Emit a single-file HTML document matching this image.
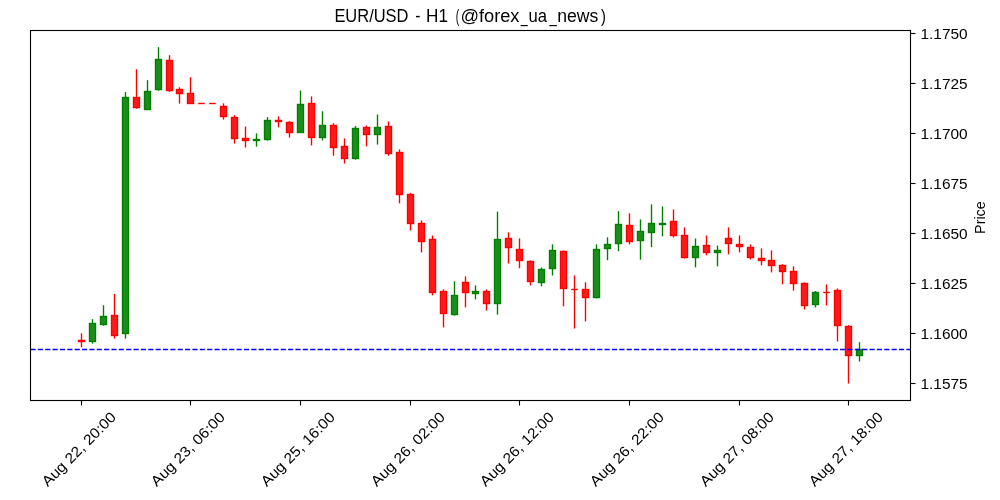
<!DOCTYPE html><html><head><meta charset="utf-8"><style>html,body{margin:0;padding:0;background:#fff;width:1000px;height:500px;overflow:hidden}svg{display:block;will-change:transform}text{font-family:"Liberation Sans",sans-serif}</style></head><body>
<svg width="1000" height="500" viewBox="0 0 1000 500">
<rect width="1000" height="500" fill="#fff"/>
<path d="M81.5 333.30V347.30" stroke="#ff0000" stroke-width="1.39"/>
<path d="M92.5 319.20V343.50" stroke="#008000" stroke-width="1.39"/>
<path d="M103.5 305.20V325.70" stroke="#008000" stroke-width="1.39"/>
<path d="M114.5 294.00V338.60" stroke="#ff0000" stroke-width="1.39"/>
<path d="M125.5 92.10V338.60" stroke="#008000" stroke-width="1.39"/>
<path d="M136.5 69.20V108.80" stroke="#ff0000" stroke-width="1.39"/>
<path d="M147.5 80.20V109.80" stroke="#008000" stroke-width="1.39"/>
<path d="M158.5 47.20V90.80" stroke="#008000" stroke-width="1.39"/>
<path d="M169.5 55.20V91.90" stroke="#ff0000" stroke-width="1.39"/>
<path d="M179.5 87.30V103.60" stroke="#ff0000" stroke-width="1.39"/>
<path d="M190.5 77.20V103.80" stroke="#ff0000" stroke-width="1.39"/>
<path d="M223.5 103.30V119.60" stroke="#ff0000" stroke-width="1.39"/>
<path d="M234.5 115.20V143.60" stroke="#ff0000" stroke-width="1.39"/>
<path d="M245.5 126.50V147.50" stroke="#ff0000" stroke-width="1.39"/>
<path d="M256.5 133.40V146.60" stroke="#008000" stroke-width="1.39"/>
<path d="M267.5 117.20V140.60" stroke="#008000" stroke-width="1.39"/>
<path d="M278.5 116.40V127.40" stroke="#ff0000" stroke-width="1.39"/>
<path d="M289.5 121.20V137.60" stroke="#ff0000" stroke-width="1.39"/>
<path d="M300.5 90.60V132.70" stroke="#008000" stroke-width="1.39"/>
<path d="M311.5 96.40V145.40" stroke="#ff0000" stroke-width="1.39"/>
<path d="M322.5 111.30V140.50" stroke="#008000" stroke-width="1.39"/>
<path d="M333.5 123.20V155.70" stroke="#ff0000" stroke-width="1.39"/>
<path d="M344.5 138.40V163.50" stroke="#ff0000" stroke-width="1.39"/>
<path d="M355.5 126.10V159.60" stroke="#008000" stroke-width="1.39"/>
<path d="M366.5 125.40V146.40" stroke="#ff0000" stroke-width="1.39"/>
<path d="M377.5 114.50V144.60" stroke="#008000" stroke-width="1.39"/>
<path d="M388.5 121.40V155.70" stroke="#ff0000" stroke-width="1.39"/>
<path d="M399.5 149.40V203.40" stroke="#ff0000" stroke-width="1.39"/>
<path d="M410.5 193.10V230.50" stroke="#ff0000" stroke-width="1.39"/>
<path d="M421.5 220.40V252.40" stroke="#ff0000" stroke-width="1.39"/>
<path d="M432.5 235.50V295.40" stroke="#ff0000" stroke-width="1.39"/>
<path d="M443.5 289.40V327.40" stroke="#ff0000" stroke-width="1.39"/>
<path d="M454.5 281.30V315.60" stroke="#008000" stroke-width="1.39"/>
<path d="M465.5 276.40V307.40" stroke="#ff0000" stroke-width="1.39"/>
<path d="M475.5 285.40V299.40" stroke="#008000" stroke-width="1.39"/>
<path d="M486.5 289.40V310.60" stroke="#ff0000" stroke-width="1.39"/>
<path d="M497.5 211.60V314.60" stroke="#008000" stroke-width="1.39"/>
<path d="M508.5 232.30V263.50" stroke="#ff0000" stroke-width="1.39"/>
<path d="M519.5 238.40V268.20" stroke="#ff0000" stroke-width="1.39"/>
<path d="M530.5 260.40V285.40" stroke="#ff0000" stroke-width="1.39"/>
<path d="M541.5 267.50V286.30" stroke="#008000" stroke-width="1.39"/>
<path d="M552.5 244.40V275.50" stroke="#008000" stroke-width="1.39"/>
<path d="M563.5 250.40V306.30" stroke="#ff0000" stroke-width="1.39"/>
<path d="M574.5 275.40V328.50" stroke="#ff0000" stroke-width="1.39"/>
<path d="M585.5 282.30V321.40" stroke="#ff0000" stroke-width="1.39"/>
<path d="M596.5 244.40V298.40" stroke="#008000" stroke-width="1.39"/>
<path d="M607.5 237.40V260.20" stroke="#008000" stroke-width="1.39"/>
<path d="M618.5 211.20V251.20" stroke="#008000" stroke-width="1.39"/>
<path d="M629.5 213.40V244.30" stroke="#ff0000" stroke-width="1.39"/>
<path d="M640.5 219.40V259.60" stroke="#008000" stroke-width="1.39"/>
<path d="M651.5 204.40V247.20" stroke="#008000" stroke-width="1.39"/>
<path d="M662.5 206.40V236.40" stroke="#008000" stroke-width="1.39"/>
<path d="M673.5 209.40V237.50" stroke="#ff0000" stroke-width="1.39"/>
<path d="M684.5 227.40V258.60" stroke="#ff0000" stroke-width="1.39"/>
<path d="M695.5 238.50V267.40" stroke="#008000" stroke-width="1.39"/>
<path d="M706.5 235.50V255.40" stroke="#ff0000" stroke-width="1.39"/>
<path d="M717.5 245.60V266.30" stroke="#008000" stroke-width="1.39"/>
<path d="M728.5 227.40V254.40" stroke="#ff0000" stroke-width="1.39"/>
<path d="M739.5 235.40V252.40" stroke="#ff0000" stroke-width="1.39"/>
<path d="M750.5 244.40V259.50" stroke="#ff0000" stroke-width="1.39"/>
<path d="M761.5 248.40V265.40" stroke="#ff0000" stroke-width="1.39"/>
<path d="M771.5 250.40V272.40" stroke="#ff0000" stroke-width="1.39"/>
<path d="M782.5 264.10V284.40" stroke="#ff0000" stroke-width="1.39"/>
<path d="M793.5 266.40V290.70" stroke="#ff0000" stroke-width="1.39"/>
<path d="M804.5 282.40V309.50" stroke="#ff0000" stroke-width="1.39"/>
<path d="M815.5 291.00V307.50" stroke="#008000" stroke-width="1.39"/>
<path d="M826.5 284.40V305.40" stroke="#ff0000" stroke-width="1.39"/>
<path d="M837.5 288.40V341.50" stroke="#ff0000" stroke-width="1.39"/>
<path d="M848.5 325.20V383.50" stroke="#ff0000" stroke-width="1.39"/>
<path d="M859.5 342.20V361.50" stroke="#008000" stroke-width="1.39"/>
<rect x="78.5" y="340.5" width="6" height="1" fill="#ff1a1a" stroke="#ff0000" stroke-width="1.39"/>
<rect x="89.5" y="323.5" width="6" height="18" fill="#1a8d1a" stroke="#008000" stroke-width="1.39"/>
<rect x="100.5" y="316.5" width="6" height="8" fill="#1a8d1a" stroke="#008000" stroke-width="1.39"/>
<rect x="111.5" y="315.5" width="6" height="20" fill="#ff1a1a" stroke="#ff0000" stroke-width="1.39"/>
<rect x="122.5" y="97.5" width="6" height="236" fill="#1a8d1a" stroke="#008000" stroke-width="1.39"/>
<rect x="133.5" y="97.5" width="6" height="10" fill="#ff1a1a" stroke="#ff0000" stroke-width="1.39"/>
<rect x="144.5" y="91.5" width="6" height="18" fill="#1a8d1a" stroke="#008000" stroke-width="1.39"/>
<rect x="155.5" y="59.5" width="6" height="30" fill="#1a8d1a" stroke="#008000" stroke-width="1.39"/>
<rect x="166.5" y="60.5" width="6" height="30" fill="#ff1a1a" stroke="#ff0000" stroke-width="1.39"/>
<rect x="176.5" y="89.5" width="6" height="4" fill="#ff1a1a" stroke="#ff0000" stroke-width="1.39"/>
<rect x="187.5" y="93.5" width="6" height="10" fill="#ff1a1a" stroke="#ff0000" stroke-width="1.39"/>
<path d="M198.20 103.5H204.80" stroke="#ff0000" stroke-width="1.39"/>
<path d="M209.20 103.5H215.80" stroke="#ff0000" stroke-width="1.39"/>
<rect x="220.5" y="106.5" width="6" height="10" fill="#ff1a1a" stroke="#ff0000" stroke-width="1.39"/>
<rect x="231.5" y="117.5" width="6" height="21" fill="#ff1a1a" stroke="#ff0000" stroke-width="1.39"/>
<rect x="242.5" y="138.5" width="6" height="2" fill="#ff1a1a" stroke="#ff0000" stroke-width="1.39"/>
<rect x="253.5" y="139.5" width="6" height="1" fill="#1a8d1a" stroke="#008000" stroke-width="1.39"/>
<rect x="264.5" y="120.5" width="6" height="19" fill="#1a8d1a" stroke="#008000" stroke-width="1.39"/>
<rect x="275.5" y="120.5" width="6" height="1" fill="#ff1a1a" stroke="#ff0000" stroke-width="1.39"/>
<rect x="286.5" y="122.5" width="6" height="10" fill="#ff1a1a" stroke="#ff0000" stroke-width="1.39"/>
<rect x="297.5" y="104.5" width="6" height="28" fill="#1a8d1a" stroke="#008000" stroke-width="1.39"/>
<rect x="308.5" y="103.5" width="6" height="34" fill="#ff1a1a" stroke="#ff0000" stroke-width="1.39"/>
<rect x="319.5" y="125.5" width="6" height="12" fill="#1a8d1a" stroke="#008000" stroke-width="1.39"/>
<rect x="330.5" y="125.5" width="6" height="22" fill="#ff1a1a" stroke="#ff0000" stroke-width="1.39"/>
<rect x="341.5" y="146.5" width="6" height="12" fill="#ff1a1a" stroke="#ff0000" stroke-width="1.39"/>
<rect x="352.5" y="128.5" width="6" height="30" fill="#1a8d1a" stroke="#008000" stroke-width="1.39"/>
<rect x="363.5" y="127.5" width="6" height="7" fill="#ff1a1a" stroke="#ff0000" stroke-width="1.39"/>
<rect x="374.5" y="127.5" width="6" height="7" fill="#1a8d1a" stroke="#008000" stroke-width="1.39"/>
<rect x="385.5" y="126.5" width="6" height="27" fill="#ff1a1a" stroke="#ff0000" stroke-width="1.39"/>
<rect x="396.5" y="152.5" width="6" height="42" fill="#ff1a1a" stroke="#ff0000" stroke-width="1.39"/>
<rect x="407.5" y="194.5" width="6" height="29" fill="#ff1a1a" stroke="#ff0000" stroke-width="1.39"/>
<rect x="418.5" y="223.5" width="6" height="18" fill="#ff1a1a" stroke="#ff0000" stroke-width="1.39"/>
<rect x="429.5" y="239.5" width="6" height="53" fill="#ff1a1a" stroke="#ff0000" stroke-width="1.39"/>
<rect x="440.5" y="291.5" width="6" height="22" fill="#ff1a1a" stroke="#ff0000" stroke-width="1.39"/>
<rect x="451.5" y="295.5" width="6" height="19" fill="#1a8d1a" stroke="#008000" stroke-width="1.39"/>
<rect x="462.5" y="282.5" width="6" height="10" fill="#ff1a1a" stroke="#ff0000" stroke-width="1.39"/>
<rect x="472.5" y="291.5" width="6" height="2" fill="#1a8d1a" stroke="#008000" stroke-width="1.39"/>
<rect x="483.5" y="291.5" width="6" height="12" fill="#ff1a1a" stroke="#ff0000" stroke-width="1.39"/>
<rect x="494.5" y="239.5" width="6" height="64" fill="#1a8d1a" stroke="#008000" stroke-width="1.39"/>
<rect x="505.5" y="238.5" width="6" height="9" fill="#ff1a1a" stroke="#ff0000" stroke-width="1.39"/>
<rect x="516.5" y="249.5" width="6" height="11" fill="#ff1a1a" stroke="#ff0000" stroke-width="1.39"/>
<rect x="527.5" y="261.5" width="6" height="20" fill="#ff1a1a" stroke="#ff0000" stroke-width="1.39"/>
<rect x="538.5" y="269.5" width="6" height="13" fill="#1a8d1a" stroke="#008000" stroke-width="1.39"/>
<rect x="549.5" y="250.5" width="6" height="18" fill="#1a8d1a" stroke="#008000" stroke-width="1.39"/>
<rect x="560.5" y="251.5" width="6" height="37" fill="#ff1a1a" stroke="#ff0000" stroke-width="1.39"/>
<path d="M571.20 289.5H577.80" stroke="#ff0000" stroke-width="1.39"/>
<rect x="582.5" y="289.5" width="6" height="8" fill="#ff1a1a" stroke="#ff0000" stroke-width="1.39"/>
<rect x="593.5" y="249.5" width="6" height="48" fill="#1a8d1a" stroke="#008000" stroke-width="1.39"/>
<rect x="604.5" y="244.5" width="6" height="4" fill="#1a8d1a" stroke="#008000" stroke-width="1.39"/>
<rect x="615.5" y="224.5" width="6" height="19" fill="#1a8d1a" stroke="#008000" stroke-width="1.39"/>
<rect x="626.5" y="225.5" width="6" height="16" fill="#ff1a1a" stroke="#ff0000" stroke-width="1.39"/>
<rect x="637.5" y="231.5" width="6" height="9" fill="#1a8d1a" stroke="#008000" stroke-width="1.39"/>
<rect x="648.5" y="223.5" width="6" height="9" fill="#1a8d1a" stroke="#008000" stroke-width="1.39"/>
<rect x="659.5" y="223.5" width="6" height="1" fill="#1a8d1a" stroke="#008000" stroke-width="1.39"/>
<rect x="670.5" y="221.5" width="6" height="14" fill="#ff1a1a" stroke="#ff0000" stroke-width="1.39"/>
<rect x="681.5" y="235.5" width="6" height="22" fill="#ff1a1a" stroke="#ff0000" stroke-width="1.39"/>
<rect x="692.5" y="246.5" width="6" height="11" fill="#1a8d1a" stroke="#008000" stroke-width="1.39"/>
<rect x="703.5" y="245.5" width="6" height="7" fill="#ff1a1a" stroke="#ff0000" stroke-width="1.39"/>
<rect x="714.5" y="250.5" width="6" height="2" fill="#1a8d1a" stroke="#008000" stroke-width="1.39"/>
<rect x="725.5" y="238.5" width="6" height="5" fill="#ff1a1a" stroke="#ff0000" stroke-width="1.39"/>
<rect x="736.5" y="244.5" width="6" height="2" fill="#ff1a1a" stroke="#ff0000" stroke-width="1.39"/>
<rect x="747.5" y="247.5" width="6" height="10" fill="#ff1a1a" stroke="#ff0000" stroke-width="1.39"/>
<rect x="758.5" y="258.5" width="6" height="2" fill="#ff1a1a" stroke="#ff0000" stroke-width="1.39"/>
<rect x="768.5" y="260.5" width="6" height="5" fill="#ff1a1a" stroke="#ff0000" stroke-width="1.39"/>
<rect x="779.5" y="265.5" width="6" height="6" fill="#ff1a1a" stroke="#ff0000" stroke-width="1.39"/>
<rect x="790.5" y="271.5" width="6" height="12" fill="#ff1a1a" stroke="#ff0000" stroke-width="1.39"/>
<rect x="801.5" y="283.5" width="6" height="22" fill="#ff1a1a" stroke="#ff0000" stroke-width="1.39"/>
<rect x="812.5" y="292.5" width="6" height="12" fill="#1a8d1a" stroke="#008000" stroke-width="1.39"/>
<path d="M823.20 292.5H829.80" stroke="#ff0000" stroke-width="1.39"/>
<rect x="834.5" y="290.5" width="6" height="35" fill="#ff1a1a" stroke="#ff0000" stroke-width="1.39"/>
<rect x="845.5" y="326.5" width="6" height="29" fill="#ff1a1a" stroke="#ff0000" stroke-width="1.39"/>
<rect x="856.5" y="349.5" width="6" height="6" fill="#1a8d1a" stroke="#008000" stroke-width="1.39"/>
<path d="M30.5 349.5H910.5" stroke="#0000ff" stroke-width="1.39" stroke-dasharray="5.14 2.22"/>
<rect x="30.5" y="30.5" width="880" height="370" fill="none" stroke="#000" stroke-width="1.11" stroke-linecap="square"/>
<path d="M910.5 33.5H915.5" stroke="#000" stroke-width="1.11"/>
<text x="920.5" y="38.50" font-family="Liberation Sans" font-size="14.2" textLength="47.2" lengthAdjust="spacingAndGlyphs" fill="#000">1.1750</text>
<path d="M910.5 83.5H915.5" stroke="#000" stroke-width="1.11"/>
<text x="920.5" y="88.50" font-family="Liberation Sans" font-size="14.2" textLength="47.2" lengthAdjust="spacingAndGlyphs" fill="#000">1.1725</text>
<path d="M910.5 133.5H915.5" stroke="#000" stroke-width="1.11"/>
<text x="920.5" y="138.50" font-family="Liberation Sans" font-size="14.2" textLength="47.2" lengthAdjust="spacingAndGlyphs" fill="#000">1.1700</text>
<path d="M910.5 183.5H915.5" stroke="#000" stroke-width="1.11"/>
<text x="920.5" y="188.50" font-family="Liberation Sans" font-size="14.2" textLength="47.2" lengthAdjust="spacingAndGlyphs" fill="#000">1.1675</text>
<path d="M910.5 233.5H915.5" stroke="#000" stroke-width="1.11"/>
<text x="920.5" y="238.50" font-family="Liberation Sans" font-size="14.2" textLength="47.2" lengthAdjust="spacingAndGlyphs" fill="#000">1.1650</text>
<path d="M910.5 283.5H915.5" stroke="#000" stroke-width="1.11"/>
<text x="920.5" y="288.50" font-family="Liberation Sans" font-size="14.2" textLength="47.2" lengthAdjust="spacingAndGlyphs" fill="#000">1.1625</text>
<path d="M910.5 333.5H915.5" stroke="#000" stroke-width="1.11"/>
<text x="920.5" y="338.50" font-family="Liberation Sans" font-size="14.2" textLength="47.2" lengthAdjust="spacingAndGlyphs" fill="#000">1.1600</text>
<path d="M910.5 383.5H915.5" stroke="#000" stroke-width="1.11"/>
<text x="920.5" y="388.50" font-family="Liberation Sans" font-size="14.2" textLength="47.2" lengthAdjust="spacingAndGlyphs" fill="#000">1.1575</text>
<path d="M81.5 400.5V405.5" stroke="#000" stroke-width="1.11"/>
<text x="78.70" y="454.20" transform="rotate(-45 78.70 449.00)" text-anchor="middle" font-family="Liberation Sans" font-size="14.6" textLength="97.8" lengthAdjust="spacingAndGlyphs" fill="#000">Aug 22, 20:00</text>
<path d="M190.5 400.5V405.5" stroke="#000" stroke-width="1.11"/>
<text x="187.70" y="454.20" transform="rotate(-45 187.70 449.00)" text-anchor="middle" font-family="Liberation Sans" font-size="14.6" textLength="97.8" lengthAdjust="spacingAndGlyphs" fill="#000">Aug 23, 06:00</text>
<path d="M300.5 400.5V405.5" stroke="#000" stroke-width="1.11"/>
<text x="297.70" y="454.20" transform="rotate(-45 297.70 449.00)" text-anchor="middle" font-family="Liberation Sans" font-size="14.6" textLength="97.8" lengthAdjust="spacingAndGlyphs" fill="#000">Aug 25, 16:00</text>
<path d="M410.5 400.5V405.5" stroke="#000" stroke-width="1.11"/>
<text x="407.70" y="454.20" transform="rotate(-45 407.70 449.00)" text-anchor="middle" font-family="Liberation Sans" font-size="14.6" textLength="97.8" lengthAdjust="spacingAndGlyphs" fill="#000">Aug 26, 02:00</text>
<path d="M519.5 400.5V405.5" stroke="#000" stroke-width="1.11"/>
<text x="516.70" y="454.20" transform="rotate(-45 516.70 449.00)" text-anchor="middle" font-family="Liberation Sans" font-size="14.6" textLength="97.8" lengthAdjust="spacingAndGlyphs" fill="#000">Aug 26, 12:00</text>
<path d="M629.5 400.5V405.5" stroke="#000" stroke-width="1.11"/>
<text x="626.70" y="454.20" transform="rotate(-45 626.70 449.00)" text-anchor="middle" font-family="Liberation Sans" font-size="14.6" textLength="97.8" lengthAdjust="spacingAndGlyphs" fill="#000">Aug 26, 22:00</text>
<path d="M739.5 400.5V405.5" stroke="#000" stroke-width="1.11"/>
<text x="736.70" y="454.20" transform="rotate(-45 736.70 449.00)" text-anchor="middle" font-family="Liberation Sans" font-size="14.6" textLength="97.8" lengthAdjust="spacingAndGlyphs" fill="#000">Aug 27, 08:00</text>
<path d="M848.5 400.5V405.5" stroke="#000" stroke-width="1.11"/>
<text x="845.70" y="454.20" transform="rotate(-45 845.70 449.00)" text-anchor="middle" font-family="Liberation Sans" font-size="14.6" textLength="97.8" lengthAdjust="spacingAndGlyphs" fill="#000">Aug 27, 18:00</text>
<text id="t0" x="334.40" y="21.9" font-family="Liberation Sans" font-size="17.5" textLength="74.11" lengthAdjust="spacingAndGlyphs" fill="#000">EUR/USD</text>
<text id="t1" x="415.20" y="21.9" font-family="Liberation Sans" font-size="17.5" textLength="5.14" lengthAdjust="spacingAndGlyphs" fill="#000">-</text>
<text id="t2" x="426.00" y="21.9" font-family="Liberation Sans" font-size="17.5" textLength="21.93" lengthAdjust="spacingAndGlyphs" fill="#000">H1</text>
<text id="t3" x="455.80" y="21.9" font-family="Liberation Sans" font-size="17.5" textLength="3.43" lengthAdjust="spacingAndGlyphs" fill="#000">(</text>
<text id="t4" x="460.40" y="21.9" font-family="Liberation Sans" font-size="17.5" textLength="59.11" lengthAdjust="spacingAndGlyphs" fill="#000">@forex</text>
<text id="t5" x="520.80" y="21.9" font-family="Liberation Sans" font-size="17.5" textLength="6.91" lengthAdjust="spacingAndGlyphs" fill="#000">_</text>
<text id="t6" x="528.40" y="21.9" font-family="Liberation Sans" font-size="17.5" textLength="18.53" lengthAdjust="spacingAndGlyphs" fill="#000">ua</text>
<text id="t7" x="549.60" y="21.9" font-family="Liberation Sans" font-size="17.5" textLength="7.26" lengthAdjust="spacingAndGlyphs" fill="#000">_</text>
<text id="t8" x="557.20" y="21.9" font-family="Liberation Sans" font-size="17.5" textLength="41.14" lengthAdjust="spacingAndGlyphs" fill="#000">news</text>
<text id="t9" x="601.00" y="21.9" font-family="Liberation Sans" font-size="17.5" textLength="4.87" lengthAdjust="spacingAndGlyphs" fill="#000">)</text>
<text x="984.8" y="217.6" transform="rotate(-90 984.8 217.6)" text-anchor="middle" font-family="Liberation Sans" font-size="14" textLength="32.6" lengthAdjust="spacingAndGlyphs" fill="#000">Price</text>
</svg></body></html>
